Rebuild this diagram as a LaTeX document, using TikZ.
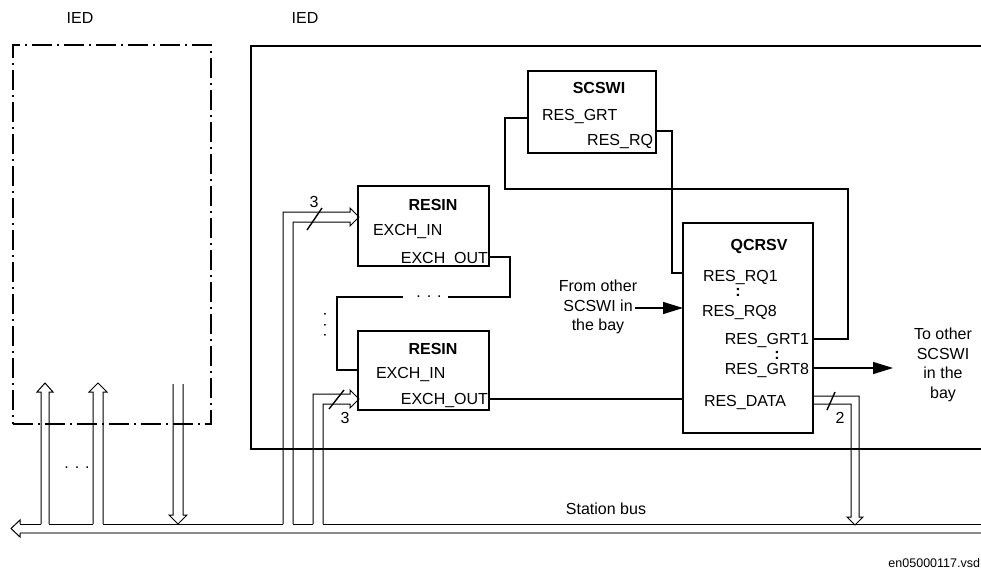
\documentclass[tikz,border=0pt]{standalone}
\usepackage{fontspec}
\setmainfont{Liberation Sans}
\usetikzlibrary{arrows.meta}
\begin{document}
\begin{tikzpicture}[x=1pt,y=-1pt,
  every node/.style={font=\fontsize{16}{19.5}\selectfont, inner sep=0pt, outer sep=0pt},
  box/.style={draw, line width=1.5pt, anchor=north west},
  dashdotbox/.style={draw, line width=2.4pt, anchor=north west, dash pattern=on 20pt off 5pt on 2pt off 5pt},
  conn/.style={line width=1.4pt},
  dbl/.style={line width=1pt},
  shadeline/.style={line width=1.2pt, draw=black!45},
  lbl/.style={anchor=base west},
  rlbl/.style={anchor=base east},
  ttl/.style={anchor=base, font=\fontsize{16}{19.5}\selectfont\bfseries},
  tip/.style={-{Triangle[length=20pt,width=12pt]}},
]
\useasboundingbox (0,0) rectangle (981,581);

% IED frames
\node[anchor=base] (iedl1) at (80,23) {IED};
\node[anchor=base] (iedl2) at (305,23) {IED};
\node[dashdotbox, minimum width=198pt, minimum height=379pt] (ied1) at (13,45) {};
\node[box, minimum width=760pt, minimum height=403pt] (ied2) at (251,46) {};

% Function blocks
\node[box, minimum width=131pt, minimum height=80pt] (resin1) at (358,186) {};
\node[box, minimum width=131pt, minimum height=79pt] (resin2) at (358,331) {};
\node[box, minimum width=128pt, minimum height=82pt] (scswi) at (528,71) {};
\node[box, minimum width=130pt, minimum height=210pt] (qcrsv) at (683,223) {};

% Block texts
\node[ttl] (t_resin1) at (433,210) {RESIN};
\node[lbl] (r1in) at (373,235) {EXCH\_IN};
\node[rlbl] (r1out) at (488,263) {EXCH\_OUT};
\node[ttl] (t_resin2) at (433,354) {RESIN};
\node[lbl] (r2in) at (376,378) {EXCH\_IN};
\node[rlbl] (r2out) at (488,404) {EXCH\_OUT};
\node[ttl] (t_scswi) at (599,93) {SCSWI};
\node[lbl] (sgrt) at (542,120) {RES\_GRT};
\node[rlbl] (srq) at (653,145) {RES\_RQ};
\node[ttl] (t_qcrsv) at (759,250) {QCRSV};
\node[lbl] (qrq1) at (703,281) {RES\_RQ1};
\node (qc1) at (738,292) {\textbf{:}};
\node[lbl] (qrq8) at (702,316) {RES\_RQ8};
\node[rlbl] (qgrt1) at (809,344) {RES\_GRT1};
\node (qc2) at (777,355) {\textbf{:}};
\node[rlbl] (qgrt8) at (809,374) {RES\_GRT8};
\node[lbl] (qdata) at (704,406) {RES\_DATA};

% Side texts
\node[align=center, anchor=north] (fromtxt) at (598,280) {From other\\SCSWI in\\the bay};
\node[align=center, anchor=north] (totxt) at (943,328) {To other\\SCSWI\\in the\\bay};
\node[anchor=base] (bustxt) at (606,514) {Station bus};
\node[anchor=base east, font=\fontsize{12.5}{15}\selectfont] (fname) at (980,567) {en05000117.vsd};

% Port coordinates
\coordinate (pr1out) at (489,257);
\coordinate (pr2in) at (358,370);
\coordinate (pr2out) at (489,399);
\coordinate (psgrt) at (528,118);
\coordinate (psrq) at (656,131);
\coordinate (pqrq1) at (683,273);
\coordinate (pqrq8) at (683,308);
\coordinate (pqgrt1) at (813,339);
\coordinate (pqgrt8) at (813,368);
\coordinate (pqdata) at (683,399);
\coordinate (fromstart) at (635,308);
\coordinate (toend) at (893,368);

% Single connectors
\draw[conn] (pr1out) -| (510,297) -- (448,297);
\node (hdots) at (429,297) {. . .};
\draw[conn] (403,297) -| (337,370) -- (pr2in);
\node[rotate=90] (vdots) at (325,325) {. . .};
\draw[conn] (pr2out) -- (pqdata);
\draw[conn] (psrq) -| (672,273) -- (pqrq1);
\draw[conn] (psgrt) -| (505,189) -| (848,339) -- (pqgrt1);
\draw[conn, tip] (fromstart) -- (pqrq8);
\draw[conn, tip] (pqgrt8) -- (toend);

% Station bus (double line arrow to the left)
\draw[dbl] (20,524) -- (41,524) (49,524) -- (93,524) (103,524) -- (283,524)
  (293,524) -- (313,524) (323,524) -- (990,524);
\draw[shadeline] (20,533) -- (990,533);
\draw[dbl, line join=miter] (20,524) -- (20,520) -- (11,528.5) -- (20,537) -- (20,533);

% Arrows up from bus to left IED
\draw[dbl] (41,524) -- (41,392) -- (37,392) -- (45,383) -- (53,392) -- (49,392) -- (49,524);
\draw[dbl] (93,524) -- (93,392) -- (89,392) -- (98,383) -- (107,392) -- (103,392) -- (103,524);
\node (ldots) at (77,468) {. . .};
% Arrow down from left IED to bus
\draw[dbl] (173,384) -- (173,515) -- (169,515) -- (178,524) -- (187,515) -- (183,515) -- (183,384);

% Bus to RESIN 1 (3 signals)
\draw[dbl] (283,524) -- (283,212) -- (350,212) -- (350,208) -- (359,217) -- (350,226) -- (350,222) -- (293,222) -- (293,524);
\draw[conn] (307,230) -- (322,208);
\node (n3a) at (314,202) {3};
% Bus to RESIN 2 (3 signals)
\draw[dbl] (313,524) -- (313,394) -- (350,394) -- (350,390) -- (359,399) -- (350,408) -- (350,404) -- (323,404) -- (323,524);
\draw[conn] (329,409) -- (344,390);
\node (n3b) at (345,418) {3};
% RES_DATA to bus (2 signals)
\draw[dbl] (813,396) -- (859,396) -- (859,517) -- (863,517) -- (855,525) -- (847,517) -- (851,517) -- (851,404) -- (813,404);
\draw[conn] (827,410) -- (835,392);
\node (n2) at (840,418) {2};
\end{tikzpicture}
\end{document}
